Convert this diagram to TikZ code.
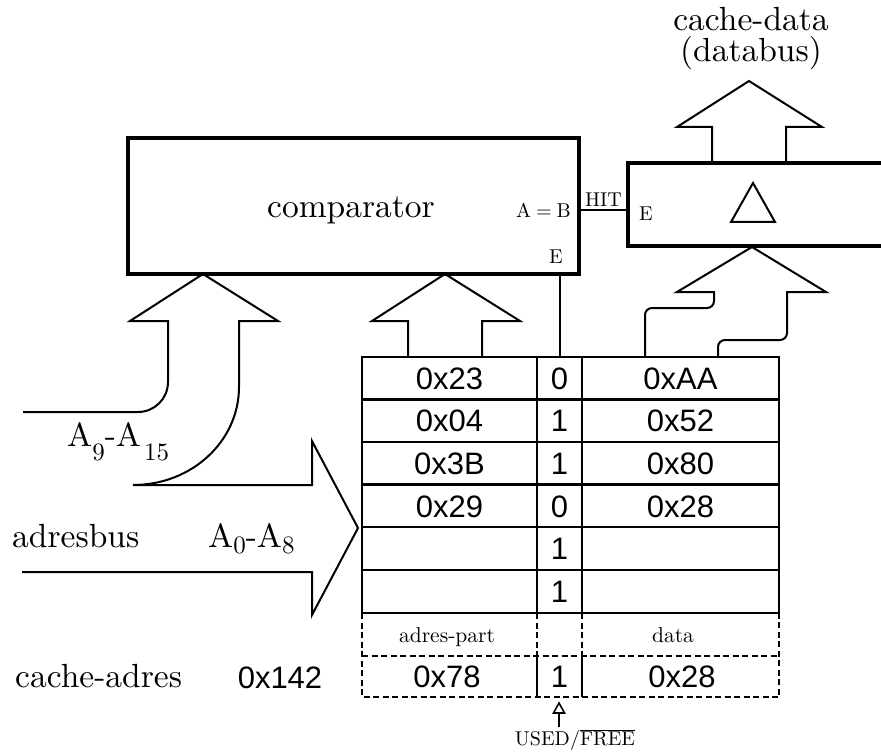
\documentclass[tikz,border=0pt]{standalone}
\usepackage{fontspec}
\newfontfamily\hexfont{Liberation Sans}
\newfontfamily\lmten{lmroman10-regular.otf}
\newcommand\subf{\fontsize{25}{30}\selectfont}
\begin{document}
\begin{tikzpicture}[x=1pt,y=-1pt,line join=miter,
  big/.style={font=\lmten\fontsize{33.5}{40}\selectfont, inner sep=0pt},
  top/.style={font=\lmten\fontsize{33.5}{40}\selectfont, inner sep=0pt},
  hex/.style={font=\hexfont\fontsize{31}{36}\selectfont, inner sep=0pt},
  lbl/.style={font=\lmten\fontsize{20}{24}\selectfont, inner sep=0pt},
  sml/.style={font=\lmten\fontsize{21.5}{26}\selectfont, inner sep=0pt},
  boxline/.style={line width=3.2pt},
  bus/.style={line width=2pt},
  tab/.style={line width=2.2pt},
  tabdash/.style={line width=2.2pt, dash pattern=on 6pt off 3.5pt}]
\useasboundingbox (0,0) rectangle (881,754);

% comparator
\node[draw, boxline, minimum width=451pt, minimum height=136pt, inner sep=0pt] (cmp) at (353.5,206) {};
\node[big, anchor=base] (cmpt) at (351,218) {comparator};
\node[lbl, anchor=base east] (aeqb) at (571,218) {A\kern5pt=\kern5pt B};
\node[lbl, anchor=base] (ecmp) at (556,264) {E};

% buffer (open to the right)
\coordinate (bufW) at (628,210);
\draw[boxline] (881,163) -- (628,163) -- (628,246) -- (881,246);
\draw[line width=2pt] (753,183) -- (775,222) -- (731,222) -- cycle;
\node[lbl, anchor=base] (ebuf) at (646,221) {E};

% HIT
\draw[bus] (cmp.east |- bufW) -- (bufW);
\node[lbl, anchor=base] (hit) at (603.5,207) {HIT};

% output bus
\draw[bus] (712,163) -- (712,127) -- (677,127) -- (749,81) -- (822,127) -- (786,127) -- (786,163);
\node[top, anchor=base] (cd) at (751,31) {cache-data};
\node[top, anchor=base, text height=18pt] (db) at (751,62) {(databus)};

% data bus into buffer
\draw[bus] (645,357) [rounded corners=7pt] -- (645,308) -- (714,308) [sharp corners] -- (714,292) -- (677,292) -- (752,247) -- (826,292) -- (787,292) [rounded corners=7pt] -- (787,340) -- (718,340) [sharp corners] -- (718,357);

% adres-part bus into comparator
\draw[bus] (408,357) -- (408,321) -- (372,321) -- (445,274) -- (520,321) -- (482,321) -- (482,357);
% enable line
\draw[bus] (560,274) -- (560,357);

% address bus
\draw[bus] (23,412) [rounded corners=30pt] -- (168,412) [sharp corners] -- (168,321) -- (130,321) -- (203,274) -- (278,321) -- (239,321) -- (239,387) .. controls (239,441) and (192,485) .. (133,485) -- (312,485) -- (312,441) -- (358,528) -- (312,615) -- (312,572) -- (22,572);
\node[big, anchor=base west] (a915) at (67,446) {A\raisebox{-14pt}{\subf 9}-A\kern3pt\raisebox{-14pt}{\subf 15}};
\node[big, anchor=base west] (a08) at (208,547) {A\raisebox{-6pt}{\subf 0}-A\raisebox{-6pt}{\subf 8}};
\node[big, anchor=base west] (ab) at (12,547) {adresbus};

% table
\draw[tab] (362,357) rectangle (779,613);
\foreach \y in {399.5,442,484.5,527,570} \draw[tab] (362,\y) -- (779,\y);
\draw[tab] (537,357) -- (537,613);
\draw[tab] (582,357) -- (582,613);
\foreach \a/\b/\c [count=\i, evaluate=\i as \yy using 357+42.667*(\i-0.5)] in {0x23/0/0xAA, 0x04/1/0x52, 0x3B/1/0x80, 0x29/0/0x28, {}/1/{}, {}/1/{}} {
  \node[hex] (ka\i) at (449.5,\yy) {\a};
  \node[hex] (kb\i) at (559.5,\yy) {\b};
  \node[hex] (kc\i) at (680.5,\yy) {\c};
}
\draw[tabdash] (362,613) -- (362,697) -- (779,697) -- (779,613);
\draw[tabdash] (362,656) -- (779,656);
\draw[tabdash] (537,613) -- (537,656);
\draw[tabdash] (582,613) -- (582,656);
\draw[tab] (537,656) -- (537,697);
\draw[tab] (582,656) -- (582,697);
\node[sml, anchor=base] (ap) at (447,642) {adres-part};
\node[sml, anchor=base] (dt) at (673,642) {data};
\node[hex] (ra) at (447,676.5) {0x78};
\node[hex] (rb) at (559.5,676.5) {1};
\node[hex] (rc) at (682,676.5) {0x28};

% cache address
\node[big, anchor=base west] (ca) at (15,687) {cache-adres};
\node[hex, anchor=base] (c142) at (280,688) {0x142};

% used/free
\coordinate (ufa) at (559,703);
\draw[line width=1.6pt] (559,727) -- (559,713);
\draw[line width=1.6pt, fill=white] (553.5,713) -- (ufa) -- (564.5,713) -- cycle;
\node[lbl, anchor=base] (uf) at (575,745) {USED/$\overline{\mbox{FREE}}$};
\end{tikzpicture}
\end{document}
